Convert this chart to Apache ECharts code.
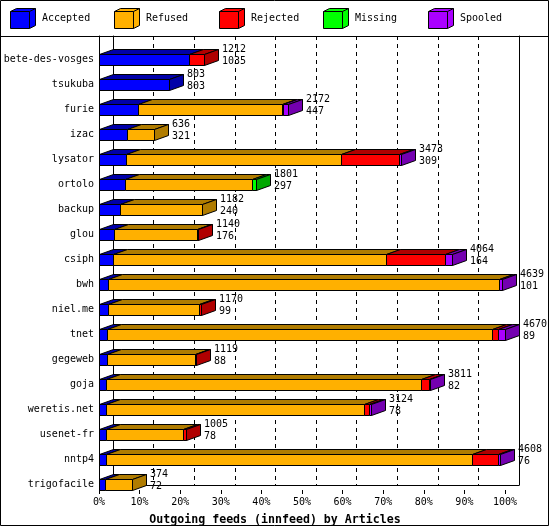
<!DOCTYPE html>
<html>
<head>
<meta charset="utf-8">
<script src="https://cdn.jsdelivr.net/npm/echarts@6/dist/echarts.min.js"></script>
<style>
html,body{margin:0;padding:0;background:#fff;}
#chart{width:550px;height:530px;}
</style>
</head>
<body>
<div id="chart"></div>
<script>
// ---- data ----
const categories = ['bete-des-vosges','tsukuba','furie','izac','lysator','ortolo','backup','glou','csiph','bwh','niel.me','tnet','gegeweb','goja','weretis.net','usenet-fr','nntp4','trigofacile'];
const accepted = [1035,803,447,321,309,297,240,176,164,101,99,89,88,82,78,78,76,72];
const refused  = [0,0,1655,315,2471,1460,942,950,3136,4495,1056,4435,1021,3618,2970,892,4218,302];
const rejected = [177,0,10,0,670,0,0,14,679,0,15,69,10,96,61,35,290,0];
const missing  = [0,0,0,0,0,44,0,0,0,0,0,0,0,0,0,0,0,0];
const spooled  = [0,0,60,0,23,0,0,0,85,43,0,77,0,15,15,0,24,0];
const totals   = [1212,803,2172,636,3473,1801,1182,1140,4064,4639,1170,4670,1119,3811,3124,1005,4608,374];
const seriesNames = ['Accepted','Refused','Rejected','Missing','Spooled'];
const percentTicks = [0,10,20,30,40,50,60,70,80,90,100];

// ---- styles ----
const frontColors = ['#0000ff','#ffb000','#ff0000','#00ff00','#aa00ff'];
const darkColors  = ['#0000a8','#b07c00','#b00000','#00a800','#7400b0'];
const legendLefts = [10, 114, 219, 323, 428];
const FONT = '"DejaVu Sans Mono","Liberation Mono",monospace';
const DX = 14, DY = -5, FH = 11;

const segs = [accepted, refused, rejected, missing, spooled];
const maxTotal = Math.max.apply(null, totals);

function makeRender(k) {
  return function (params, api) {
    const i = params.dataIndex;
    const v = segs[k][i];
    if (!v) return null;
    let start = 0;
    for (let j = 0; j < k; j++) start += segs[j][i];
    const end = start + v;
    const pa = api.coord([start / maxTotal * 100, i]);
    const pb = api.coord([end / maxTotal * 100, i]);
    const x0 = Math.round(pa[0]) + 0.5;
    const x1 = Math.round(pb[0]) + 0.5;
    const yt = Math.round(pa[1] - FH / 2) + 0.5;
    const yb = yt + FH;
    let last = true;
    for (let j = k + 1; j < segs.length; j++) if (segs[j][i]) last = false;
    const stroke = {stroke: '#000', lineWidth: 1};
    const children = [
      {type: 'polygon', shape: {points: [[x0, yt], [x0 + DX, yt + DY], [x1 + DX, yt + DY], [x1, yt]]},
       style: Object.assign({fill: darkColors[k]}, stroke)},
      {type: 'polygon', shape: {points: [[x0, yt], [x1, yt], [x1, yb], [x0, yb]]},
       style: Object.assign({fill: frontColors[k]}, stroke)}
    ];
    if (last) {
      children.push({type: 'polygon', shape: {points: [[x1, yt], [x1 + DX, yt + DY], [x1 + DX, yb + DY], [x1, yb]]},
        style: Object.assign({fill: darkColors[k]}, stroke)});
    }
    return {type: 'group', children: children};
  };
}

function renderLabels(params, api) {
  const i = params.dataIndex;
  const p = api.coord([totals[i] / maxTotal * 100, i]);
  const x = Math.round(p[0]) + DX + 4;
  const cy = p[1];
  return {type: 'group', children: [
    {type: 'text', style: {text: String(totals[i]), x: x, y: cy - 10, fill: '#000',
      font: '10px ' + FONT, verticalAlign: 'middle', align: 'left'}},
    {type: 'text', style: {text: String(accepted[i]), x: x, y: cy + 1.5, fill: '#000',
      font: '10px ' + FONT, verticalAlign: 'middle', align: 'left'}}
  ]};
}

const catData = categories.map((c, i) => [i]);

const series = seriesNames.map((name, k) => ({
  name: name,
  type: 'custom',
  coordinateSystem: 'cartesian2d',
  xAxisIndex: 0, yAxisIndex: 0,
  clip: false,
  z: 5,
  itemStyle: {color: frontColors[k], borderColor: '#000', borderWidth: 1},
  renderItem: makeRender(k),
  data: catData
}));
series.push({
  name: 'labels', type: 'custom', coordinateSystem: 'cartesian2d',
  xAxisIndex: 0, yAxisIndex: 0, clip: false, z: 6,
  renderItem: renderLabels, data: catData
});

const cubeIcon = 'path://M0,3 L6,0 L25,0 L25,17 L19,20 L0,20 Z M0,3 L19,3 L19,20 M19,3 L25,0';

const legends = seriesNames.map((name, k) => ({
  data: [name],
  left: legendLefts[k], top: 8, padding: 0,
  orient: 'horizontal',
  icon: cubeIcon,
  itemWidth: 26, itemHeight: 20,
  selectedMode: false,
  itemStyle: {borderColor: '#000', borderWidth: 1},
  textStyle: {fontFamily: FONT, fontSize: 10, color: '#000', padding: [0, 0, 0, 1]}
}));

const option = {
  animation: false,
  backgroundColor: '#fff',
  textStyle: {fontFamily: FONT},
  title: {
    text: 'Outgoing feeds (innfeed) by Articles',
    left: 'center', top: 509,
    textStyle: {fontFamily: FONT, fontSize: 11.6, fontWeight: 'bold', color: '#000'}
  },
  legend: legends,
  grid: [
    {left: 99, width: 406, top: 47, height: 450},
    {left: 113, width: 406, top: 36, height: 449},
    {left: 99, width: 406, top: 36, height: 454}
  ],
  xAxis: [
    {gridIndex: 0, type: 'value', min: 0, max: 100, show: false},
    {gridIndex: 1, type: 'value', min: 0, max: 100, interval: 10,
     axisLine: {show: true, lineStyle: {color: '#000', width: 1}},
     axisTick: {show: false}, axisLabel: {show: false},
     splitLine: {show: true, lineStyle: {color: '#000', type: [4, 4], width: 1}}},
    {gridIndex: 2, type: 'value', min: 0, max: 100, interval: 10,
     axisLine: {show: false},
     axisTick: {show: true, length: 4, lineStyle: {color: '#000'}},
     splitLine: {show: false},
     axisLabel: {show: true, margin: 7, color: '#000', fontFamily: FONT, fontSize: 10,
       formatter: function (v) { return percentTicks.indexOf(v) >= 0 ? v + '%' : ''; }}}
  ],
  yAxis: [
    {gridIndex: 0, type: 'category', data: categories, inverse: true,
     axisLine: {show: false}, axisTick: {show: false}, splitLine: {show: false},
     axisLabel: {margin: 5, color: '#000', fontFamily: FONT, fontSize: 10}},
    {gridIndex: 1, type: 'value', min: 0, max: 1, position: 'left',
     axisLine: {show: true, lineStyle: {color: '#000'}}, axisTick: {show: false},
     axisLabel: {show: false}, splitLine: {show: false}},
    {gridIndex: 1, type: 'value', min: 0, max: 1, position: 'right',
     axisLine: {show: true, onZero: false, lineStyle: {color: '#000'}}, axisTick: {show: false},
     axisLabel: {show: false}, splitLine: {show: false}},
    {gridIndex: 2, type: 'value', min: 0, max: 1, position: 'left',
     axisLine: {show: true, lineStyle: {color: '#000'}}, axisTick: {show: false},
     axisLabel: {show: false}, splitLine: {show: false}}
  ],
  graphic: [
    {type: 'rect', shape: {x: 0.5, y: 0.5, width: 548, height: 525},
     style: {fill: 'none', stroke: '#000', lineWidth: 1}, silent: true},
    {type: 'line', shape: {x1: 0, y1: 36.5, x2: 549, y2: 36.5},
     style: {stroke: '#000', lineWidth: 1}, silent: true}
  ],
  series: series
};

const chart = echarts.init(document.getElementById('chart'), null, {renderer: 'canvas'});
chart.setOption(option);
</script>
</body>
</html>
